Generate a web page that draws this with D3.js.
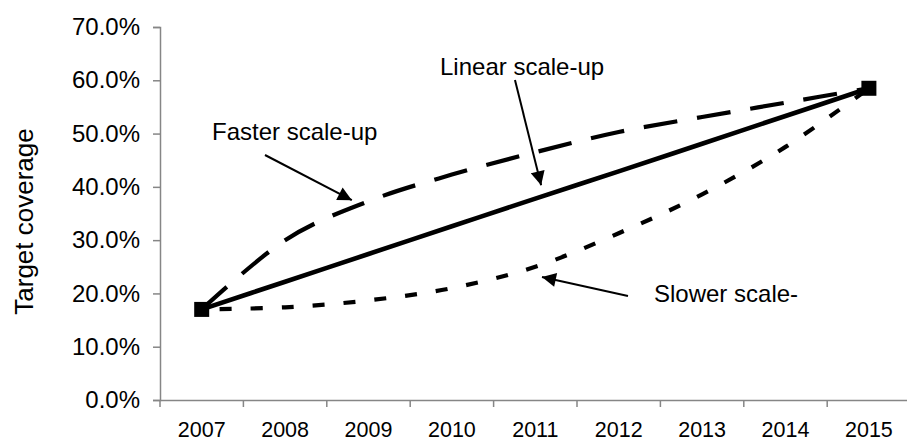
<!DOCTYPE html>
<html>
<head>
<meta charset="utf-8">
<script src="https://cdn.jsdelivr.net/npm/d3@7/dist/d3.min.js"></script>
<style>
  html, body { margin: 0; padding: 0; background: #fff; }
  svg { display: block; font-family: "Liberation Sans", Arial, Helvetica, sans-serif; }
</style>
</head>
<body>
<svg id="chart" width="907" height="442"></svg>
<script>
// Coverage scenarios, 2007 to 2015
const years = ["2007", "2008", "2009", "2010", "2011", "2012", "2013", "2014", "2015"];
const linearScaleUp = [0.170, 0.222, 0.274, 0.326, 0.378, 0.429, 0.481, 0.533, 0.585];
const fasterScaleUp = [0.170, 0.300, 0.373, 0.423, 0.465, 0.503, 0.531, 0.558, 0.585];
const slowerScaleUp = [0.170, 0.174, 0.187, 0.210, 0.250, 0.313, 0.386, 0.475, 0.585];
const yTicks = [0, 0.1, 0.2, 0.3, 0.4, 0.5, 0.6, 0.7];

// Callout labels: text, label position, arrow start and arrow tip (category position, value)
const callouts = [
  { text: "Faster scale-up", lx: 212, ly: 140, from: [265, 155], tip: [1.8, 0.375] },
  { text: "Linear scale-up", lx: 440, ly: 75,  from: [515, 80],  tip: [4.07, 0.403] },
  { text: "Slower scale-",   lx: 654, ly: 302, from: [628, 296], tip: [4.08, 0.231] }
];

const svg = d3.select("#chart");
const plotLeft = 160, plotBottom = 400, plotTop = 27, band = 83.4;

const x = d3.scaleBand().domain(years).range([plotLeft, plotLeft + band * years.length]).padding(0);
const y = d3.scaleLinear().domain([0, 0.7]).range([plotBottom, plotTop]);
const cx = d => x(d) + x.bandwidth() / 2;
// fractional category position, for callout arrow tips
const xAt = i => plotLeft + x.bandwidth() * (i + 0.5);

const axisColor = "#868686";

// y axis
const yAxis = svg.append("g")
  .attr("transform", `translate(${plotLeft},0)`)
  .call(d3.axisLeft(y).tickValues(yTicks).tickFormat(d3.format(".1%")).tickSize(7).tickPadding(13));
yAxis.select(".domain").attr("stroke", axisColor).attr("stroke-width", 1.5);
yAxis.selectAll(".tick line").attr("stroke", axisColor).attr("stroke-width", 1.5);
yAxis.selectAll(".tick text").attr("fill", "#000").style("font-size", "24px");

// x axis with ticks on category boundaries
const xAxis = svg.append("g")
  .attr("transform", `translate(0,${plotBottom})`)
  .call(d3.axisBottom(x).tickSizeOuter(0).tickSize(0).tickPadding(22));
xAxis.select(".domain").attr("stroke", axisColor).attr("stroke-width", 1.5);
xAxis.selectAll(".tick line").remove();
xAxis.selectAll(".tick text").attr("fill", "#000").style("font-size", "21.5px");
xAxis.selectAll(".boundary")
  .data(years)
  .enter().append("line")
  .attr("class", "boundary")
  .attr("x1", d => x(d)).attr("x2", d => x(d))
  .attr("y1", 0).attr("y2", 7)
  .attr("stroke", axisColor).attr("stroke-width", 1.5);

// axis title
svg.append("text")
  .attr("transform", `translate(33,${(plotTop + plotBottom) / 2 + 8}) rotate(-90)`)
  .attr("text-anchor", "middle")
  .style("font-size", "26px")
  .text("Target coverage");

// series lines
const line = d3.line()
  .x((d, i) => cx(years[i]))
  .y(d => y(d))
  .curve(d3.curveCatmullRom.alpha(0));

svg.append("path").datum(fasterScaleUp)
  .attr("d", line).attr("fill", "none").attr("stroke", "#000")
  .attr("stroke-width", 4.2).attr("stroke-dasharray", "34,20");

svg.append("path").datum(slowerScaleUp)
  .attr("d", line).attr("fill", "none").attr("stroke", "#000")
  .attr("stroke-width", 4.2).attr("stroke-dasharray", "12,19").attr("stroke-dashoffset", -18);

svg.append("path").datum(linearScaleUp)
  .attr("d", line).attr("fill", "none").attr("stroke", "#000")
  .attr("stroke-width", 4.6);

// end-point markers on the linear series
const ends = [0, years.length - 1];
svg.selectAll(".marker")
  .data(ends)
  .enter().append("rect")
  .attr("class", "marker")
  .attr("x", i => cx(years[i]) - 7.5)
  .attr("y", i => y(linearScaleUp[i]) - 7.5)
  .attr("width", 15).attr("height", 15)
  .attr("fill", "#000");

// arrowhead
svg.append("defs").append("marker")
  .attr("id", "arrow")
  .attr("viewBox", "0 0 10 10")
  .attr("refX", 10).attr("refY", 5)
  .attr("markerUnits", "userSpaceOnUse")
  .attr("markerWidth", 17).attr("markerHeight", 14)
  .attr("orient", "auto")
  .append("path").attr("d", "M0,0 L10,5 L0,10 Z").attr("fill", "#000");

const cg = svg.append("g");
callouts.forEach(c => {
  cg.append("line")
    .attr("x1", c.from[0]).attr("y1", c.from[1])
    .attr("x2", xAt(c.tip[0])).attr("y2", y(c.tip[1]))
    .attr("stroke", "#000").attr("stroke-width", 2)
    .attr("marker-end", "url(#arrow)");
  cg.append("text")
    .attr("x", c.lx).attr("y", c.ly)
    .style("font-size", "24px")
    .text(c.text);
});
</script>
</body>
</html>
